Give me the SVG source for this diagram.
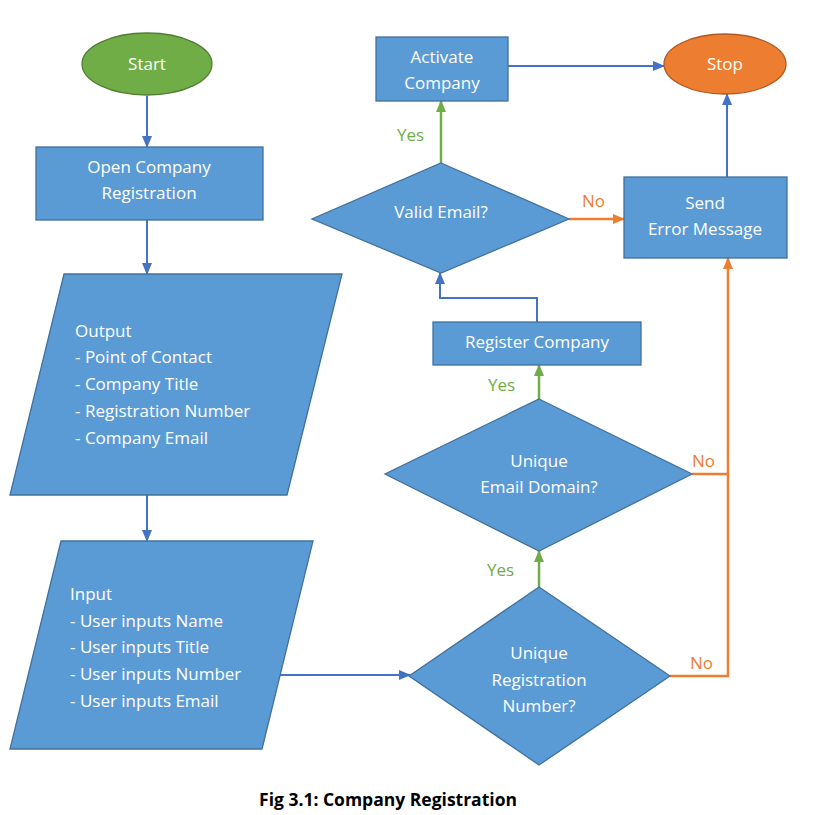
<svg xmlns="http://www.w3.org/2000/svg" width="820" height="815" viewBox="0 0 820 815">
<style>
.shape{fill:#5B9BD5;stroke:#41719C;stroke-width:1.3}
.t{font-family:"Open Sans","Liberation Sans",sans-serif;font-size:17px;fill:#ffffff}
.c{text-anchor:middle}
.blue{stroke:#4472C4;stroke-width:2;fill:none}
.green{stroke:#70AD47;stroke-width:2.5;fill:none}
.orange{stroke:#ED7D31;stroke-width:2.5;fill:none}
.lg{font-family:"Open Sans","Liberation Sans",sans-serif;font-size:17px;fill:#70AD47}
.lo{font-family:"Open Sans","Liberation Sans",sans-serif;font-size:17px;fill:#ED7D31}
</style>
<defs>
<marker id="ab" markerUnits="userSpaceOnUse" markerWidth="12" markerHeight="10" refX="11" refY="5" orient="auto"><path d="M0,0 L12,5 L0,10 Z" fill="#4472C4"/></marker>
<marker id="ag" markerUnits="userSpaceOnUse" markerWidth="12" markerHeight="10" refX="11" refY="5" orient="auto"><path d="M0,0 L12,5 L0,10 Z" fill="#70AD47"/></marker>
<marker id="ao" markerUnits="userSpaceOnUse" markerWidth="12" markerHeight="10" refX="11" refY="5" orient="auto"><path d="M0,0 L12,5 L0,10 Z" fill="#ED7D31"/></marker>
</defs>
<rect width="820" height="815" fill="#ffffff"/>
<g id="connectors">
<line class="blue" x1="147" y1="96" x2="147" y2="147" marker-end="url(#ab)"/>
<line class="blue" x1="147" y1="220" x2="147" y2="274" marker-end="url(#ab)"/>
<line class="blue" x1="147" y1="495" x2="147" y2="541" marker-end="url(#ab)"/>
<line class="blue" x1="280" y1="675" x2="410" y2="675" marker-end="url(#ab)"/>
<line class="green" x1="539" y1="587" x2="539" y2="551" marker-end="url(#ag)"/>
<line class="green" x1="539" y1="399" x2="539" y2="365" marker-end="url(#ag)"/>
<polyline class="blue" points="537,322 537,298 440,298 440,273" marker-end="url(#ab)"/>
<line class="green" x1="441" y1="163" x2="441" y2="101" marker-end="url(#ag)"/>
<line class="orange" x1="569" y1="219" x2="624" y2="219" marker-end="url(#ao)"/>
<polyline class="orange" points="670,676 728,676 728,258" marker-end="url(#ao)"/>
<line class="orange" x1="692" y1="474" x2="728" y2="474"/>
<line class="blue" x1="727" y1="177" x2="727" y2="94" marker-end="url(#ab)"/>
<line class="blue" x1="508" y1="66" x2="664" y2="66" marker-end="url(#ab)"/>
<text class="lg" x="397" y="141">Yes</text>
<text class="lg" x="488" y="391">Yes</text>
<text class="lg" x="487" y="576">Yes</text>
<text class="lo" x="582" y="207">No</text>
<text class="lo" x="692" y="467">No</text>
<text class="lo" x="690" y="669">No</text>
</g>
<g id="start">
<ellipse cx="147" cy="64" rx="65" ry="31" fill="#70AD47" stroke="#507E32" stroke-width="1.3"/>
<text class="t c" x="147" y="70">Start</text>
</g>
<g id="open-registration">
<rect class="shape" x="36" y="147" width="227" height="73"/>
<text class="t c" x="149" y="173">Open Company</text>
<text class="t c" x="149" y="199">Registration</text>
</g>
<g id="output">
<polygon class="shape" points="64,274 342,274 287,495 10,495"/>
<text class="t" x="75" y="337">Output</text>
<text class="t" x="75" y="363">- Point of Contact</text>
<text class="t" x="75" y="390">- Company Title</text>
<text class="t" x="75" y="417">- Registration Number</text>
<text class="t" x="75" y="444">- Company Email</text>
</g>
<g id="input">
<polygon class="shape" points="61,541 313,541 262,749 10,749"/>
<text class="t" x="70" y="600">Input</text>
<text class="t" x="70" y="627">- User inputs Name</text>
<text class="t" x="70" y="653">- User inputs Title</text>
<text class="t" x="70" y="680">- User inputs Number</text>
<text class="t" x="70" y="707">- User inputs Email</text>
</g>
<g id="unique-registration">
<polygon class="shape" points="539,587 670,676 539,765 409,676"/>
<text class="t c" x="539" y="659">Unique</text>
<text class="t c" x="539" y="686">Registration</text>
<text class="t c" x="539" y="712">Number?</text>
</g>
<g id="unique-email">
<polygon class="shape" points="539,399 692,474 539,551 385,474"/>
<text class="t c" x="539" y="467">Unique</text>
<text class="t c" x="539" y="493">Email Domain?</text>
</g>
<g id="register-company">
<rect class="shape" x="433" y="322" width="208" height="43"/>
<text class="t c" x="537" y="348">Register Company</text>
</g>
<g id="valid-email">
<polygon class="shape" points="441,163 569,219 441,273 312,219"/>
<text class="t c" x="441" y="218">Valid Email?</text>
</g>
<g id="activate-company">
<rect class="shape" x="376" y="37" width="132" height="64"/>
<text class="t c" x="442" y="63">Activate</text>
<text class="t c" x="442" y="89">Company</text>
</g>
<g id="send-error">
<rect class="shape" x="624" y="177" width="163" height="81"/>
<text class="t c" x="705" y="209">Send</text>
<text class="t c" x="705" y="235">Error Message</text>
</g>
<g id="stop">
<ellipse cx="725" cy="64" rx="61" ry="30" fill="#ED7D31" stroke="#AE5A21" stroke-width="1.3"/>
<text class="t c" x="725" y="70">Stop</text>
</g>
<text x="388" y="806" text-anchor="middle" font-family="'Open Sans','Liberation Sans',sans-serif" font-size="17.5" font-weight="bold" fill="#000000">Fig 3.1: Company Registration</text>
</svg>
